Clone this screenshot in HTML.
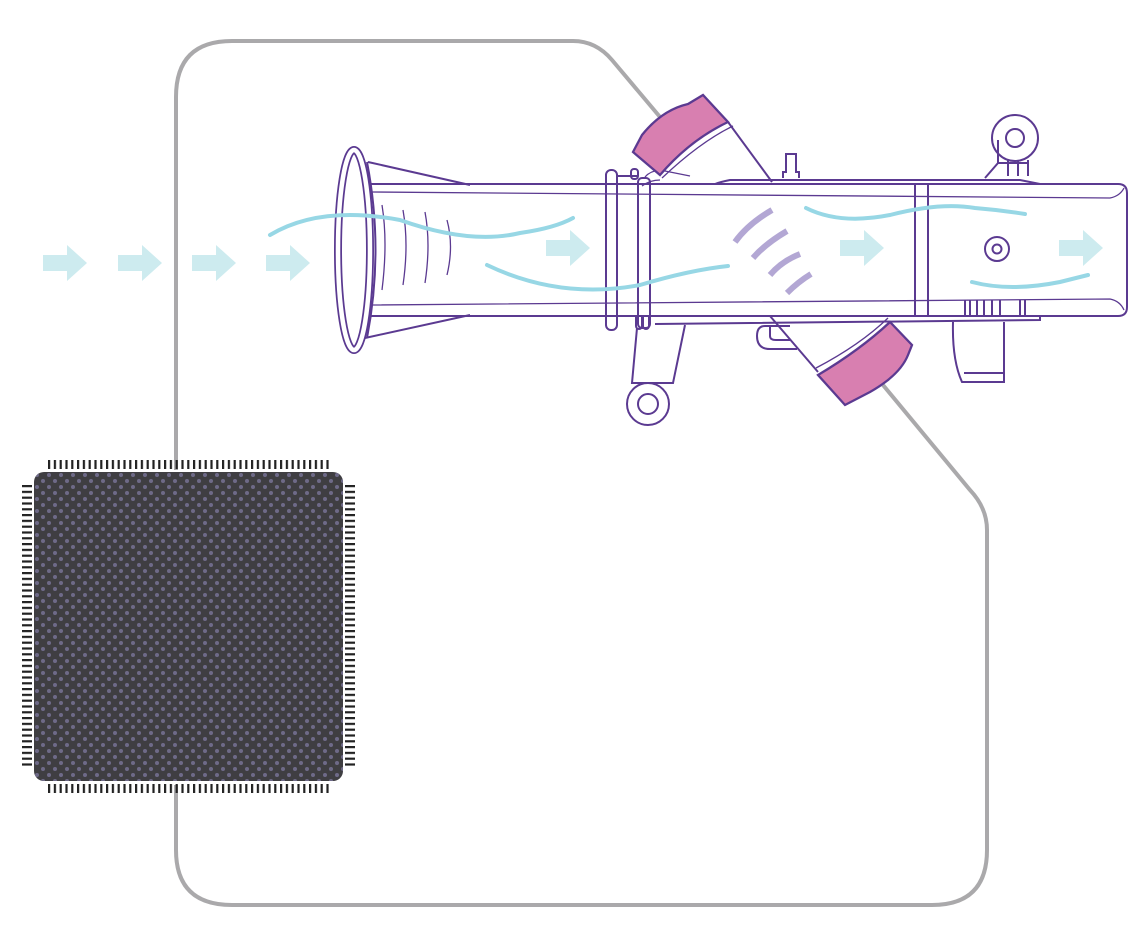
<!DOCTYPE html>
<html><head><style>html,body{margin:0;padding:0;background:#fff}svg{display:block}</style></head>
<body>
<svg width="1146" height="939" viewBox="0 0 1146 939" xmlns="http://www.w3.org/2000/svg">
<defs>
<pattern id="dots" x="34" y="472" width="12" height="12" patternUnits="userSpaceOnUse">
<circle cx="3" cy="3" r="2" fill="#6e6a88"/><circle cx="9" cy="9" r="2" fill="#6e6a88"/>
</pattern>
<pattern id="pinsH" x="48" y="0" width="5.8" height="10" patternUnits="userSpaceOnUse"><rect x="0" y="0" width="2.2" height="10" fill="#222"/></pattern>
<pattern id="pinsV" x="0" y="485" width="10" height="5.8" patternUnits="userSpaceOnUse"><rect x="0" y="0" width="10" height="2.2" fill="#222"/></pattern>
</defs>
<path d="M176,470 L176,97 Q176,41 232,41 L573,41 Q596,41 612,60 L660,117 M883,385 L970,490 Q987,508 987,530 L987,850 Q987,905 932,905 L232,905 Q176,905 176,850 L176,785" fill="none" stroke="#aaa9ab" stroke-width="4"/>
<g fill="#cdebef">
<path d="M43,255 h24 v-10 l20,18 l-20,18 v-10 h-24z"/>
<path d="M118,255 h24 v-10 l20,18 l-20,18 v-10 h-24z"/>
<path d="M192,255 h24 v-10 l20,18 l-20,18 v-10 h-24z"/>
<path d="M266,255 h24 v-10 l20,18 l-20,18 v-10 h-24z"/>
<path d="M546,240 h24 v-10 l20,18 l-20,18 v-10 h-24z"/>
<path d="M840,240 h24 v-10 l20,18 l-20,18 v-10 h-24z"/>
<path d="M1059,240 h24 v-10 l20,18 l-20,18 v-10 h-24z"/>
</g>
<g fill="none" stroke="#5b3a91" stroke-width="2">
<path d="M728,122 L772,182"/>
<path d="M770,316 L818,372"/>
<path d="M368,162 L470,185 M365,338 L470,315"/>
<path d="M365,184 L1118,184 Q1127,184 1127,193 L1127,307 Q1127,316 1118,316 L365,316"/>
<path d="M1040,184 Q1030,182 1020,180 L730,180 Q720,182 715,184"/>
<path d="M950,316 L1040,316 L1040,320 L655,324"/>
<path d="M915,184 V316 M928,184 V316"/>
</g>
<!-- bell ring -->
<ellipse cx="354" cy="250" rx="16" ry="100" fill="none" stroke="#5b3a91" stroke-width="8"/>
<ellipse cx="354" cy="250" rx="16" ry="100" fill="none" stroke="#fff" stroke-width="4.5"/>
<g fill="none" stroke="#5b3a91" stroke-width="2">
<path d="M367,162 Q384,250 367,338"/>
<rect x="606" y="170" width="11" height="160" rx="5"/>
<rect x="638" y="178" width="12" height="150" rx="4"/>
<path d="M617,176 L638,176 M617,316 L638,316"/>
<rect x="631" y="169" width="7" height="10" rx="3"/>
<path d="M636,316 v10 a3,3 0 0 0 6,0 v-10 M643,316 v10 a3,3 0 0 0 6,0 v-10"/>
<path d="M637,328 L632,383 L673,383 L685,325"/>
<circle cx="648" cy="404" r="21"/><circle cx="648" cy="404" r="10"/>
<path d="M783,178 V172 H786 V154 H796 V172 H799 V178"/>
<circle cx="1015" cy="138" r="23"/><circle cx="1015" cy="138" r="9"/>
<path d="M985,178 L998,163 V140 M1008,160 V176 M1018,160 V176 M1028,160 V176 M998,163 H1028"/>
<path d="M790,326 H765 Q757,326 757,336 Q757,349 770,349 H797 M770,326 V336 Q770,340 776,340 H790"/>
<path d="M953,322 Q952,360 962,382 H1004 V322 M964,373 H1004"/>
<path d="M965,300 V316 M970,300 V316 M977,300 V316 M984,300 V316 M992,300 V316 M1000,300 V316 M1020,300 V316 M1025,300 V316"/>
<circle cx="997" cy="249" r="12"/><circle cx="997" cy="249" r="4.5"/>
</g>
<g fill="none" stroke="#5b3a91" stroke-width="1.3">
<path d="M372,192 L1110,198 Q1120,196 1124,188 M372,305 L1110,299 Q1120,301 1124,310"/>
<path d="M382,205 Q388,242 382,290 M403,210 Q409,244 403,285 M425,212 Q431,244 425,283 M447,220 Q454,246 447,275"/>
<path d="M645,177 Q650,171 660,170 L690,176 M642,186 Q650,180 660,180"/>
</g>
<g fill="none" stroke="#97d7e5" stroke-width="4" stroke-linecap="round">
<path d="M270,235 Q320,205 400,220 Q470,245 520,233 Q555,228 573,218"/>
<path d="M487,265 Q560,300 640,285 Q690,270 728,266"/>
<path d="M806,208 Q840,225 890,215 Q940,202 975,208 Q1000,210 1025,214"/>
<path d="M972,282 Q1010,292 1060,282 L1088,275"/>
</g>
<g fill="none" stroke="#b3a7d4" stroke-width="6">
<path d="M735,242 Q748,224 772,210"/>
<path d="M753,258 Q765,244 787,231"/>
<path d="M770,275 Q782,261 800,254"/>
<path d="M787,293 Q798,282 811,274"/>
</g>
<g stroke="#5b3a91" stroke-width="2.3" fill="#d87fb0">
<path d="M633,152 L642,135 Q662,110 688,104 L703,95 L728,122 Q690,140 660,175 Z"/>
<path d="M818,375 Q860,350 890,322 L912,345 L908,355 Q900,375 870,392 L845,405 Z"/>
</g>
<path d="M662,178 Q700,142 733,126 M816,368 Q860,345 888,318" fill="none" stroke="#5b3a91" stroke-width="1.3"/>
<rect x="48" y="460" width="284" height="9" fill="url(#pinsH)"/>
<rect x="48" y="784" width="284" height="9" fill="url(#pinsH)"/>
<rect x="22" y="485" width="10" height="284" fill="url(#pinsV)"/>
<rect x="345" y="485" width="10" height="284" fill="url(#pinsV)"/>
<rect x="34" y="472" width="309" height="309" rx="10" fill="#3f3e42"/>
<rect x="34" y="472" width="309" height="309" rx="10" fill="url(#dots)"/>
</svg>
</body></html>
